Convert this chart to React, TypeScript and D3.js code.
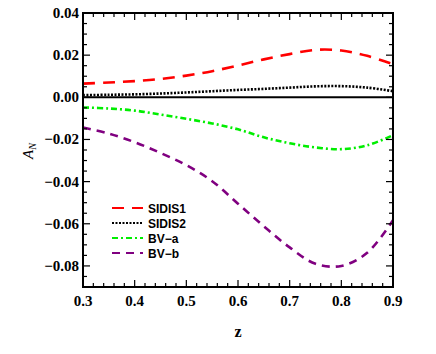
import { useRef, useEffect } from "react";
import * as d3 from "d3";

const zValues = [0.3, 0.35, 0.4, 0.45, 0.5, 0.55, 0.6, 0.65, 0.7, 0.75, 0.8, 0.85, 0.9];
const sidis1 = [0.0065, 0.007, 0.0077, 0.0087, 0.0103, 0.0124, 0.0151, 0.018, 0.0205, 0.0225, 0.0222, 0.0197, 0.0157];
const sidis2 = [0.001, 0.0012, 0.0014, 0.0018, 0.0023, 0.0029, 0.0035, 0.004, 0.0046, 0.0052, 0.0053, 0.0046, 0.0029];
const bvA = [-0.0048, -0.0053, -0.0063, -0.0082, -0.0102, -0.0124, -0.0152, -0.019, -0.0218, -0.0238, -0.0246, -0.0228, -0.018];
const bvB = [-0.0143, -0.0172, -0.0213, -0.0264, -0.0322, -0.0398, -0.0505, -0.0612, -0.0712, -0.079, -0.08, -0.0738, -0.0583];

const xTicks = [0.3, 0.4, 0.5, 0.6, 0.7, 0.8, 0.9];
const yTicks = [0.04, 0.02, 0.0, -0.02, -0.04, -0.06, -0.08];

const series = [
  { name: "SIDIS1", values: sidis1, color: "#ff0000", dash: "12,8" },
  { name: "SIDIS2", values: sidis2, color: "#000000", dash: "2,1.5" },
  { name: "BV\u2212a", values: bvA, color: "#00ee00", dash: "6,3,2,3" },
  { name: "BV\u2212b", values: bvB, color: "#800080", dash: "8,6" },
];

const W = 436;
const H = 354;

export default function App() {
  const svgRef = useRef<SVGSVGElement>(null);

  useEffect(() => {
    if (!svgRef.current) return;
    const svg = d3.select(svgRef.current);
    svg.selectAll("*").remove();

    const left = 83, right = 393, top = 13, bottom = 287;

    const x = d3.scaleLinear().domain([0.3, 0.9]).range([left, right]);
    const y = d3.scaleLinear().domain([-0.09, 0.04]).range([bottom, top]);

    // Curves
    const clip = svg.append("clipPath").attr("id", "plot-clip");
    clip.append("rect").attr("x", left).attr("y", top).attr("width", right - left).attr("height", bottom - top);

    const line = d3
      .line<number>()
      .x((_, i) => x(zValues[i]))
      .y((d) => y(d))
      .curve(d3.curveCatmullRom.alpha(0.5));

    const g = svg.append("g").attr("clip-path", "url(#plot-clip)");

    // Zero line
    g.append("line")
      .attr("x1", left)
      .attr("x2", right)
      .attr("y1", y(0))
      .attr("y2", y(0))
      .attr("stroke", "#000")
      .attr("stroke-width", 2);

    series.forEach((s) => {
      g.append("path")
        .datum(s.values)
        .attr("d", line)
        .attr("fill", "none")
        .attr("stroke", s.color)
        .attr("stroke-width", 2.6)
        .attr("stroke-dasharray", s.dash);
    });

    // Frame
    svg.append("rect")
      .attr("x", left)
      .attr("y", top)
      .attr("width", right - left)
      .attr("height", bottom - top)
      .attr("fill", "none")
      .attr("stroke", "#000")
      .attr("stroke-width", 2);

    // Ticks (inward, all four sides)
    const ticks = svg.append("g").attr("stroke", "#000").attr("stroke-width", 1.2);
    const xMinor = d3.range(0.3, 0.9001, 0.02);
    xMinor.forEach((v) => {
      const isMajor = xTicks.some((t) => Math.abs(t - v) < 1e-6);
      const len = isMajor ? 7 : 4;
      ticks.append("line").attr("x1", x(v)).attr("x2", x(v)).attr("y1", bottom).attr("y2", bottom - len);
      ticks.append("line").attr("x1", x(v)).attr("x2", x(v)).attr("y1", top).attr("y2", top + len);
    });
    const yMinor = d3.range(-0.09, 0.0401, 0.005);
    yMinor.forEach((v) => {
      const isMajor = yTicks.some((t) => Math.abs(t - v) < 1e-6);
      const len = isMajor ? 7 : 4;
      ticks.append("line").attr("x1", left).attr("x2", left + len).attr("y1", y(v)).attr("y2", y(v));
      ticks.append("line").attr("x1", right).attr("x2", right - len).attr("y1", y(v)).attr("y2", y(v));
    });

    // Tick labels
    const labelFont = "'Liberation Serif', 'Times New Roman', serif";
    svg.append("g")
      .selectAll("text")
      .data(xTicks)
      .enter()
      .append("text")
      .attr("x", (d) => x(d))
      .attr("y", 306)
      .attr("text-anchor", "middle")
      .attr("font-family", labelFont)
      .attr("font-weight", "bold")
      .attr("font-size", "15px")
      .text((d) => d.toFixed(1));

    svg.append("g")
      .selectAll("text")
      .data(yTicks)
      .enter()
      .append("text")
      .attr("x", 79)
      .attr("y", (d) => y(d) + 5)
      .attr("text-anchor", "end")
      .attr("font-family", labelFont)
      .attr("font-weight", "bold")
      .attr("font-size", "15px")
      .text((d) => (d < 0 ? "\u2212" + Math.abs(d).toFixed(2) : d.toFixed(2)));

    // Axis titles
    svg.append("text")
      .attr("x", x(0.6))
      .attr("y", 337)
      .attr("text-anchor", "middle")
      .attr("font-family", labelFont)
      .attr("font-weight", "bold")
      .attr("font-size", "16px")
      .text("z");

    const yTitle = svg.append("text")
      .attr("transform", "translate(33,151) rotate(-90)")
      .attr("text-anchor", "middle")
      .attr("font-family", labelFont)
      .attr("font-size", "15px");
    yTitle.append("tspan").attr("font-style", "italic").text("A");
    yTitle.append("tspan").attr("font-style", "italic").attr("font-size", "10px").attr("dy", 3).text("N");

    // Legend
    const legend = svg.append("g");
    series.forEach((s, i) => {
      const ly = 208 + i * 15;
      legend.append("line")
        .attr("x1", 112)
        .attr("x2", 143)
        .attr("y1", ly)
        .attr("y2", ly)
        .attr("stroke", s.color)
        .attr("stroke-width", 2)
        .attr("stroke-dasharray", s.dash);
      legend.append("text")
        .attr("x", 148)
        .attr("y", ly + 4.5)
        .attr("font-family", "'Liberation Sans', Arial, sans-serif")
        .attr("font-weight", "bold")
        .attr("font-size", "12px")
        .text(s.name);
    });
  }, []);

  return (
    <svg
      ref={svgRef}
      width={W}
      height={H}
      style={{ position: "absolute", left: 0, top: 0, background: "#fff" }}
    />
  );
}
